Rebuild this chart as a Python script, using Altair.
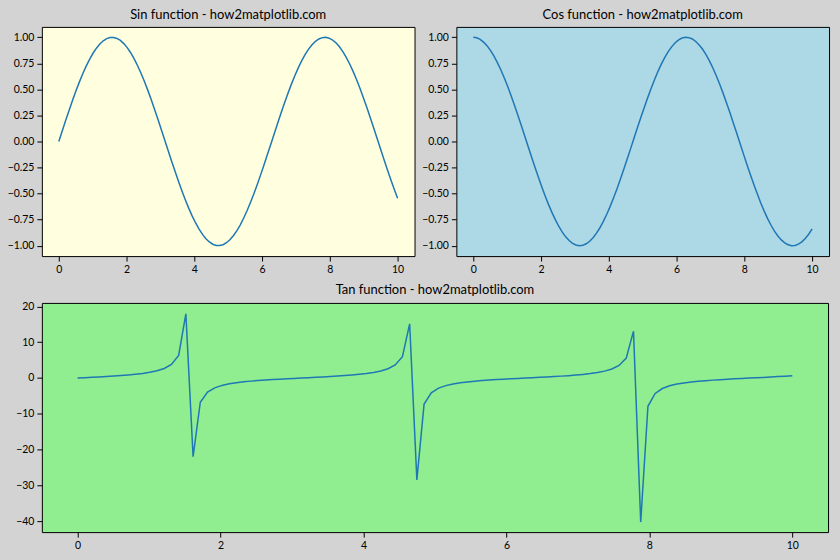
import altair as alt
import pandas as pd

x_vals = [0.000, 0.101, 0.202, 0.303, 0.404, 0.505, 0.606, 0.707, 0.808, 0.909,
          1.010, 1.111, 1.212, 1.313, 1.414, 1.515, 1.616, 1.717, 1.818, 1.919,
          2.020, 2.121, 2.222, 2.323, 2.424, 2.525, 2.626, 2.727, 2.828, 2.929,
          3.030, 3.131, 3.232, 3.333, 3.434, 3.535, 3.636, 3.737, 3.838, 3.939,
          4.040, 4.141, 4.242, 4.343, 4.444, 4.545, 4.646, 4.747, 4.848, 4.949,
          5.051, 5.152, 5.253, 5.354, 5.455, 5.556, 5.657, 5.758, 5.859, 5.960,
          6.061, 6.162, 6.263, 6.364, 6.465, 6.566, 6.667, 6.768, 6.869, 6.970,
          7.071, 7.172, 7.273, 7.374, 7.475, 7.576, 7.677, 7.778, 7.879, 7.980,
          8.081, 8.182, 8.283, 8.384, 8.485, 8.586, 8.687, 8.788, 8.889, 8.990,
          9.091, 9.192, 9.293, 9.394, 9.495, 9.596, 9.697, 9.798, 9.899, 10.000]

sin_vals = [0.000, 0.101, 0.201, 0.298, 0.393, 0.484, 0.570, 0.650, 0.723, 0.789,
            0.847, 0.896, 0.936, 0.967, 0.988, 0.999, 0.999, 0.989, 0.970, 0.940,
            0.901, 0.852, 0.795, 0.730, 0.658, 0.578, 0.493, 0.403, 0.308, 0.211,
            0.111, 0.010, -0.091, -0.191, -0.289, -0.384, -0.475, -0.561, -0.642, -0.716,
            -0.782, -0.841, -0.892, -0.933, -0.964, -0.986, -0.998, -0.999, -0.991, -0.972,
            -0.943, -0.905, -0.858, -0.802, -0.737, -0.665, -0.586, -0.502, -0.412, -0.318,
            -0.221, -0.121, -0.021, 0.080, 0.180, 0.279, 0.374, 0.466, 0.553, 0.634,
            0.709, 0.776, 0.836, 0.887, 0.929, 0.962, 0.984, 0.997, 1.000, 0.992,
            0.974, 0.947, 0.910, 0.863, 0.808, 0.744, 0.673, 0.595, 0.511, 0.421,
            0.328, 0.231, 0.132, 0.031, -0.070, -0.170, -0.269, -0.365, -0.457, -0.544]

cos_vals = [1.000, 0.995, 0.980, 0.954, 0.920, 0.875, 0.822, 0.760, 0.691, 0.615,
            0.532, 0.444, 0.351, 0.255, 0.156, 0.056, -0.045, -0.146, -0.245, -0.341,
            -0.435, -0.523, -0.606, -0.683, -0.753, -0.816, -0.870, -0.915, -0.951, -0.978,
            -0.994, -1.000, -0.996, -0.982, -0.958, -0.924, -0.880, -0.828, -0.767, -0.698,
            -0.623, -0.540, -0.453, -0.361, -0.265, -0.166, -0.066, 0.035, 0.136, 0.235,
            0.332, 0.425, 0.514, 0.598, 0.676, 0.747, 0.810, 0.865, 0.911, 0.948,
            0.975, 0.993, 1.000, 0.997, 0.984, 0.960, 0.927, 0.885, 0.834, 0.774,
            0.706, 0.631, 0.549, 0.462, 0.370, 0.275, 0.176, 0.076, -0.025, -0.126,
            -0.225, -0.322, -0.416, -0.505, -0.590, -0.668, -0.740, -0.804, -0.860, -0.907,
            -0.945, -0.973, -0.991, -1.000, -0.998, -0.985, -0.963, -0.931, -0.890, -0.839]

tan_vals = [0.000, 0.101, 0.205, 0.313, 0.428, 0.553, 0.693, 0.854, 1.047, 1.284,
            1.592, 2.019, 2.668, 3.795, 6.33, 17.97, -22.0, -6.78, -3.96, -2.75,
            -2.07, -1.63, -1.31, -1.07, -0.873, -0.708, -0.566, -0.440, -0.324, -0.216,
            -0.112, -0.010, 0.091, 0.194, 0.301, 0.416, 0.540, 0.678, 0.837, 1.025,
            1.257, 1.557, 1.969, 2.586, 3.641, 5.94, 15.15, -28.5, -7.30, -4.14,
            -2.84, -2.13, -1.668, -1.340, -1.091, -0.890, -0.724, -0.580, -0.452, -0.335,
            -0.226, -0.122, -0.021, 0.081, 0.183, 0.290, 0.404, 0.526, 0.663, 0.819,
            1.004, 1.231, 1.522, 1.920, 2.509, 3.50, 5.58, 13.10, -40.3, -7.91,
            -4.33, -2.94, -2.19, -1.707, -1.370, -1.114, -0.909, -0.740, -0.594, -0.465,
            -0.347, -0.237, -0.133, -0.031, 0.070, 0.173, 0.279, 0.392, 0.513, 0.648]

x_ticks = [0, 2, 4, 6, 8, 10]
trig_ticks = [-1.0, -0.75, -0.5, -0.25, 0.0, 0.25, 0.5, 0.75, 1.0]
tan_ticks = [-40, -30, -20, -10, 0, 10, 20]

df = pd.DataFrame({"x": x_vals, "sin": sin_vals, "cos": cos_vals, "tan": tan_vals})

FONT = "Lato"
LINE = "#1f77b4"


def panel(col, title, fill, width, yticks, ydomain, yfmt):
    return (
        alt.Chart(df)
        .mark_line(color=LINE, strokeWidth=1.5)
        .encode(
            x=alt.X("x:Q",
                    scale=alt.Scale(domain=[-0.5, 10.5], nice=False, zero=False),
                    axis=alt.Axis(values=x_ticks, format="d", title=None)),
            y=alt.Y(f"{col}:Q",
                    scale=alt.Scale(domain=ydomain, nice=False, zero=False),
                    axis=alt.Axis(values=yticks, format=yfmt, title=None)),
        )
        .properties(
            width=width, height=230,
            title=alt.TitleParams(title, fontSize=13, font=FONT, fontWeight="normal",
                                  color="black", anchor="middle", offset=5),
            view=alt.ViewBackground(fill=fill, stroke="black", strokeWidth=1),
        )
    )


sin_c = panel("sin", "Sin function - how2matplotlib.com", "#ffffe0", 374, trig_ticks, [-1.1, 1.1], ".2f")
cos_c = panel("cos", "Cos function - how2matplotlib.com", "#add8e6", 374, trig_ticks, [-1.1, 1.1], ".2f")
tan_c = panel("tan", "Tan function - how2matplotlib.com", "#90ee90", 789, tan_ticks, [-43.1, 21.0], "d")

top = alt.hconcat(sin_c, cos_c, spacing=42, bounds="flush")
chart = (
    alt.vconcat(top, tan_c, spacing=8)
    .properties(background="#d3d3d3", padding={"left": 6, "top": 7, "right": 10, "bottom": 10})
    .configure_axis(
        labelFont=FONT, labelFontSize=10.5, labelColor="black",
        tickColor="black", tickSize=5, tickWidth=1, labelPadding=3,
        domain=False, grid=False,
    )
)

chart.save("out.html", embed_options={"renderer": "svg", "actions": False})
